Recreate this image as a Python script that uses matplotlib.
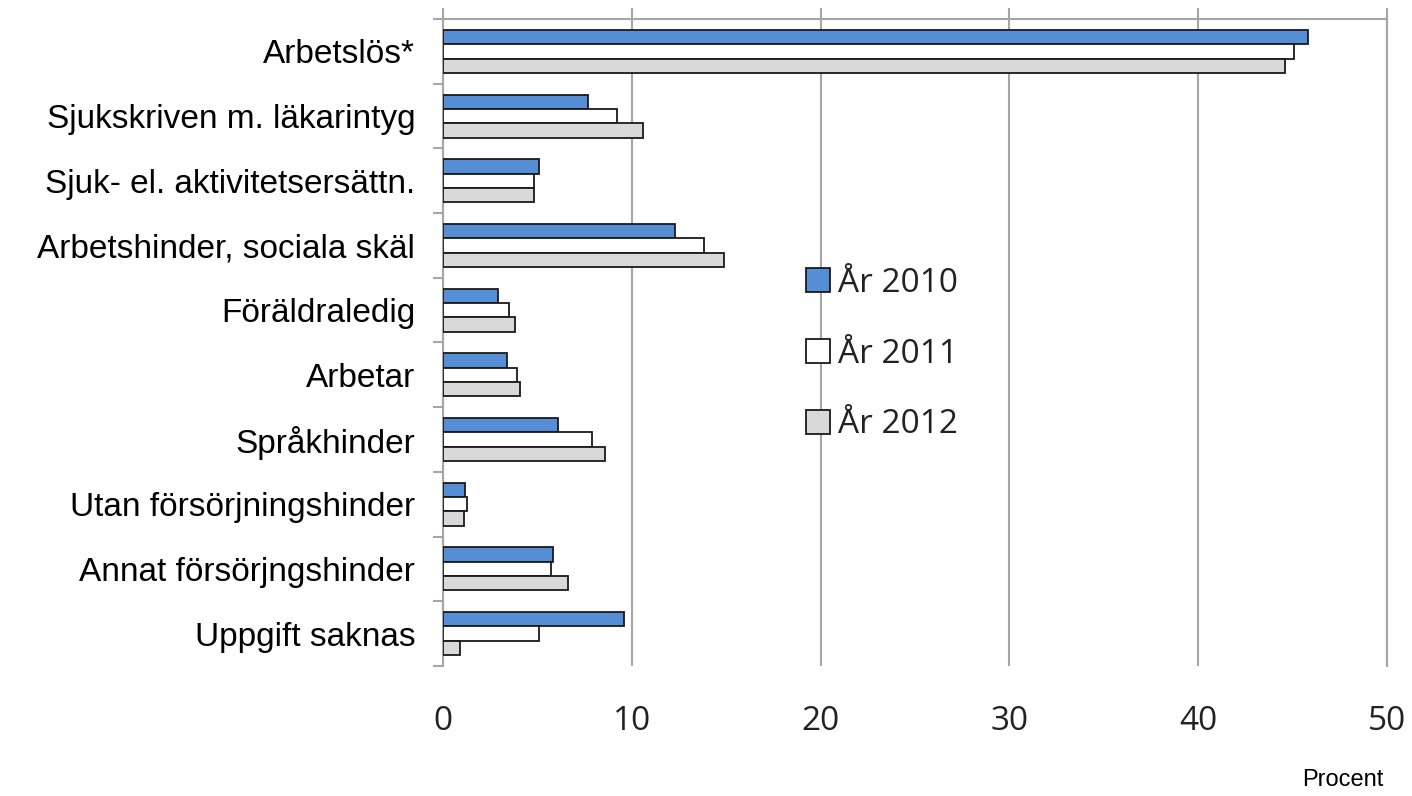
import matplotlib.pyplot as plt
import numpy as np

categories = ["Arbetslös*", "Sjukskriven m. läkarintyg", "Sjuk- el. aktivitetsersättn.",
              "Arbetshinder, sociala skäl", "Föräldraledig", "Arbetar", "Språkhinder",
              "Utan försörjningshinder", "Annat försörjngshinder", "Uppgift saknas"]
years = ["År 2010", "År 2011", "År 2012"]
v2010 = [45.8, 7.7, 5.1, 12.3, 2.9, 3.4, 6.1, 1.15, 5.8, 9.6]
v2011 = [45.1, 9.2, 4.8, 13.8, 3.5, 3.9, 7.9, 1.25, 5.7, 5.1]
v2012 = [44.6, 10.6, 4.8, 14.9, 3.8, 4.1, 8.6, 1.1, 6.6, 0.9]
xticks = [0, 10, 20, 30, 40, 50]

colors = ["#558ED5", "#FFFFFF", "#D9D9D9"]
grid_c = "#A6A6A6"

fig = plt.figure(figsize=(14.12, 7.96), dpi=100)
ax = fig.add_axes([443/1412, 1 - 666/796, 944/1412, 647/796])

y = np.arange(len(categories))
h = 0.222
for k, (vals, c, lab) in enumerate(zip([v2010, v2011, v2012], colors, years)):
    ax.barh(y + (k - 1) * h, vals, height=h, color=c, edgecolor="#1a1a1a",
            linewidth=1.3, label=lab, zorder=3)

ax.set_xlim(0, 50)
ax.set_ylim(len(categories) - 0.5, -0.5)
ax.set_xticks(xticks)
# category ticks sit between groups, labels on the group centres
ax.set_yticks(np.arange(len(categories) + 1) - 0.5, minor=False)
ax.set_yticklabels([])
ax.set_yticks(y, minor=True)
ax.set_yticklabels(categories, minor=True, fontsize=24, family="Liberation Sans")
ax.tick_params(axis="y", which="minor", length=0, pad=20)
ax.tick_params(axis="y", which="major", length=7.5, width=1.5, color=grid_c, direction="out")

ax.tick_params(axis="x", top=True, bottom=False, labeltop=False, labelbottom=True,
               length=8, width=1.5, color=grid_c, pad=20)
for t in ax.get_xticklabels():
    t.set_fontsize(24)
    t.set_family("Open Sans")
    t.set_color("#222222")

ax.grid(axis="x", color=grid_c, linewidth=1.5, zorder=0)
ax.set_axisbelow(True)
for s in ["top", "left", "right"]:
    ax.spines[s].set_color(grid_c)
    ax.spines[s].set_linewidth(1.5)
ax.spines["bottom"].set_visible(False)

leg = ax.legend(loc="upper left", bbox_to_anchor=(806/1412, 1 - 267/796),
                bbox_transform=fig.transFigure, frameon=False,
                prop={"family": "Open Sans", "size": 24},
                handlelength=0.72, handleheight=0.72, handletextpad=0.25,
                labelspacing=1.13, borderpad=0, borderaxespad=0)
for t in leg.get_texts():
    t.set_color("#222222")

fig.text(1383/1412, 1 - 780/796, "Procent", ha="right", va="center",
         fontsize=17, family="Liberation Sans")

fig.savefig("out.png", dpi=100)
